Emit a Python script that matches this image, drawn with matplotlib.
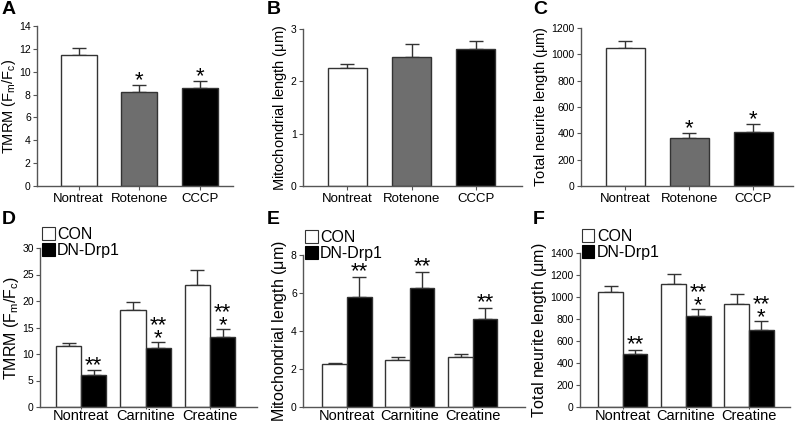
import matplotlib
matplotlib.use("Agg")
import matplotlib.pyplot as plt
from matplotlib.patches import Patch
import numpy as np

plt.rcParams['font.family'] = ['Liberation Sans', 'DejaVu Sans']
plt.rcParams['mathtext.fontset'] = 'custom'
plt.rcParams['mathtext.rm'] = 'Liberation Sans'
plt.rcParams['mathtext.it'] = 'Liberation Sans'

# ---- data ----
top_categories = ["Nontreat", "Rotenone", "CCCP"]
bottom_categories = ["Nontreat", "Carnitine", "Creatine"]
series_names = ["CON", "DN-Drp1"]

tmrm_top = [11.5, 8.2, 8.6]
tmrm_top_err = [0.6, 0.65, 0.6]
tmrm_top_sig = ["", "*", "*"]

mito_top = [2.25, 2.46, 2.62]
mito_top_err = [0.09, 0.25, 0.15]
mito_top_sig = ["", "", ""]

neurite_top = [1045, 365, 410]
neurite_top_err = [55, 35, 60]
neurite_top_sig = ["", "*", "*"]

tmrm_con = [11.5, 18.3, 23.0]
tmrm_con_err = [0.6, 1.6, 2.8]
tmrm_dn = [6.1, 11.2, 13.2]
tmrm_dn_err = [0.8, 1.1, 1.6]
tmrm_dn_sig = ["**", "**\n*", "**\n*"]

mito_con = [2.25, 2.48, 2.62]
mito_con_err = [0.08, 0.13, 0.15]
mito_dn = [5.77, 6.28, 4.63]
mito_dn_err = [1.05, 0.85, 0.6]
mito_dn_sig = ["**", "**", "**"]

neurite_con = [1045, 1120, 940]
neurite_con_err = [55, 90, 85]
neurite_dn = [478, 825, 700]
neurite_dn_err = [40, 70, 80]
neurite_dn_sig = ["**", "**\n*", "**\n*"]

W, H = 800, 423
fig = plt.figure(figsize=(8, 4.23), dpi=100)

EDGE = '#333333'
TOP_COLORS = ['white', '#6e6e6e', 'black']


def make_ax(x0, x1, ytop, ybot):
    return fig.add_axes([x0 / W, 1 - ybot / H, (x1 - x0) / W, (ybot - ytop) / H])


def style(ax, ymax, yticks, xlim, ylabel, xlab_size, xpad, xlen, ylab_size):
    for s in ['top', 'right']:
        ax.spines[s].set_visible(False)
    for s in ['left', 'bottom']:
        ax.spines[s].set_color('#555555')
        ax.spines[s].set_linewidth(1.0)
    ax.set_ylim(0, ymax)
    ax.set_yticks(yticks)
    ax.set_xlim(*xlim)
    ax.tick_params(axis='y', length=3, width=0.8, color='#555555', labelsize=7.5, pad=1.5)
    ax.tick_params(axis='x', length=xlen, width=0.8, color='#555555', labelsize=xlab_size,
                   pad=xpad)
    ax.set_ylabel(ylabel, fontsize=ylab_size, labelpad=1)


def stars(ax, x, ytop, mark, ymax, axh_px, gap_px):
    per_px = ymax / axh_px
    fs = 16
    em = fs * 100 / 72
    base = ytop + (gap_px - 0.417 * em) * per_px
    ax.text(x, base, mark, ha='center', va='baseline', fontsize=fs, color='black',
            linespacing=0.5, multialignment='center')


def top_panel(x0, x1, ytop, ybot, vals, errs, sigs, ymax, yticks, xlim, ylabel, letter, lx):
    ax = make_ax(x0, x1, ytop, ybot)
    x = np.arange(len(top_categories))
    ax.bar(x, vals, width=0.6, color=TOP_COLORS, edgecolor=EDGE, linewidth=1.0, zorder=2)
    ax.errorbar(x, vals, yerr=[np.zeros(len(vals)), errs], fmt='none', ecolor=EDGE,
                elinewidth=1.0, capsize=4.7, capthick=1.0, zorder=1)
    style(ax, ymax, yticks, xlim, ylabel, 9.5, 2, 3, 10.5)
    ax.set_xticks(x)
    ax.set_xticklabels(top_categories)
    for xi, v, e, s in zip(x, vals, errs, sigs):
        if s:
            stars(ax, xi, v + e, s, ymax, ybot - ytop, 8)
    fig.text(lx / W, 1 - 1 / H, letter, fontsize=14, fontweight='bold', va='top', ha='left')
    return ax


def bottom_panel(x0, x1, ytop, ybot, con, conerr, dn, dnerr, sigs, ymax, yticks, xlim, ylabel,
                 letter, lx, legy):
    ax = make_ax(x0, x1, ytop, ybot)
    x = np.arange(len(bottom_categories))
    w = 0.39
    ax.bar(x - w / 2, con, width=w, color='white', edgecolor=EDGE, linewidth=1.0, zorder=2)
    ax.bar(x + w / 2, dn, width=w, color='black', edgecolor=EDGE, linewidth=1.0, zorder=2)
    ax.errorbar(x - w / 2, con, yerr=[np.zeros(3), conerr], fmt='none', ecolor=EDGE,
                elinewidth=1.0, capsize=4.7, capthick=1.0, zorder=1)
    ax.errorbar(x + w / 2, dn, yerr=[np.zeros(3), dnerr], fmt='none', ecolor=EDGE,
                elinewidth=1.0, capsize=4.7, capthick=1.0, zorder=1)
    style(ax, ymax, yticks, xlim, ylabel, 10.5, 0, 1.5, 11.5)
    ax.set_xticks(x)
    ax.set_xticklabels(bottom_categories)
    for xi, v, e, s in zip(x, dn, dnerr, sigs):
        gap = 7 if "\n" in s else 9
        stars(ax, xi + w / 2, v + e, s, ymax, ybot - ytop, gap)
    handles = [Patch(facecolor='white', edgecolor='#333333', linewidth=0.8),
               Patch(facecolor='black', edgecolor='black', linewidth=0.8)]
    ax.legend(handles, series_names, loc='upper left', bbox_to_anchor=(0.008, legy),
              frameon=False, fontsize=11.5, handlelength=0.8, handleheight=0.85,
              handletextpad=0.15, labelspacing=0.05, borderpad=0, borderaxespad=0)
    fig.text(lx / W, 1 - 211 / H, letter, fontsize=14, fontweight='bold', va='top', ha='left')
    return ax


top_panel(37, 233, 26, 186, tmrm_top, tmrm_top_err, tmrm_top_sig, 14, range(0, 15, 2),
          (-0.69, 2.55), r'TMRM (F$_{\mathrm{m}}$/F$_{\mathrm{c}}$)', 'A', 2)
top_panel(303, 522, 29, 186, mito_top, mito_top_err, mito_top_sig, 3, range(0, 4),
          (-0.69, 2.72), r'Mitochondrial length ($\mu$m)', 'B', 267)
top_panel(581, 793, 28, 186, neurite_top, neurite_top_err, neurite_top_sig, 1200,
          range(0, 1201, 200), (-0.695, 2.62), r'Total neurite length ($\mu$m)', 'C', 533)

bottom_panel(40, 257, 248, 407, tmrm_con, tmrm_con_err, tmrm_dn, tmrm_dn_err, tmrm_dn_sig,
             30, range(0, 31, 5), (-0.64, 2.73), r'TMRM (F$_{\mathrm{m}}$/F$_{\mathrm{c}}$)',
             'D', 2, 1.13)
bottom_panel(303, 525, 255, 407, mito_con, mito_con_err, mito_dn, mito_dn_err, mito_dn_sig,
             8, range(0, 9, 2), (-0.70, 2.83), r'Mitochondrial length ($\mu$m)', 'E', 267,
             1.165)
bottom_panel(580, 790, 253, 407, neurite_con, neurite_con_err, neurite_dn, neurite_dn_err,
             neurite_dn_sig, 1400, range(0, 1401, 200), (-0.68, 2.65),
             r'Total neurite length ($\mu$m)', 'F', 533, 1.155)

fig.savefig('out.png', dpi=100)
